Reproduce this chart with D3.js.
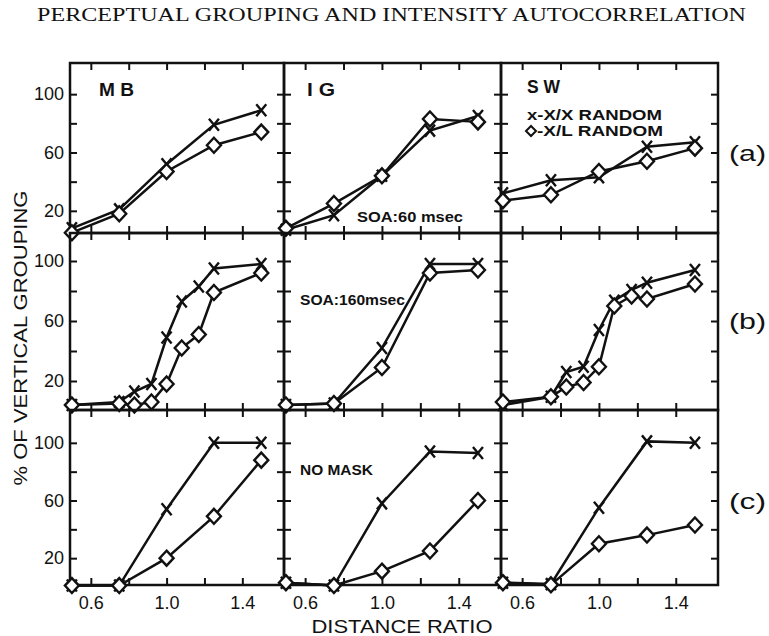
<!DOCTYPE html>
<html>
<head>
<meta charset="utf-8">
<script src="https://cdn.jsdelivr.net/npm/d3@7"></script>
<style>
  body { margin: 0; background: #fff; }
  text { fill: #111; }
</style>
</head>
<body>
<script>
// Values: % of vertical grouping vs distance ratio
const subjects = ["M B", "I G", "S W"];
const rowLabels = ["(a)", "(b)", "(c)"];
const ratios = [0.5, 0.75, 1.0, 1.25, 1.5];
const ratiosFine = [0.5, 0.75, 0.83, 0.92, 1.0, 1.08, 1.17, 1.25, 1.5];
const xTicks = [0.6, 0.8, 1.0, 1.2, 1.4];
const xTickLabels = [0.6, 1.0, 1.4];
const yTicks = [20, 40, 60, 80, 100];
const yTickLabels = [20, 60, 100];

// row (a): SOA 60 msec
const mbA_xx = [8, 21, 52, 79, 89];
const mbA_xl = [5, 18, 47, 65, 74];
const igA_xx = [7, 17, 44, 75, 85];
const igA_xl = [8, 25, 44, 83, 81];
const swA_xx = [32, 41, 43, 64, 67];
const swA_xl = [27, 31, 47, 54, 63];

// row (b): SOA 160 msec
const mbB_xx = [4, 6, 13, 18, 49, 73, 83, 95, 98];
const mbB_xl = [4, 5, 4, 6, 18, 42, 51, 79, 92];
const igB_xx = [4, 5, 42, 98, 98];
const igB_xl = [4, 5, 29, 92, 94];
const swB_xx = [4, 9.5, 26, 29.5, 54, 73.5, 80.7, 85.5, 94];
const swB_xl = [6, 9.5, 16, 19, 29.5, 70, 76.7, 74.7, 84.7];

// row (c): no mask
const mbC_xx = [1, 1, 54, 100, 100];
const mbC_xl = [1, 1, 20, 49, 88];
const igC_xx = [3, 1, 58, 94, 93];
const igC_xl = [3, 1, 11, 25, 60];
const swC_xx = [3, 2, 55, 101, 100];
const swC_xl = [3, 1.5, 30, 36, 43];

const panels = [
    {row: 0, col: 0, x: ratios, xx: mbA_xx, xl: mbA_xl},
    {row: 0, col: 1, x: ratios, xx: igA_xx, xl: igA_xl},
    {row: 0, col: 2, x: ratios, xx: swA_xx, xl: swA_xl},
    {row: 1, col: 0, x: ratiosFine, xx: mbB_xx, xl: mbB_xl},
    {row: 1, col: 1, x: ratios, xx: igB_xx, xl: igB_xl},
    {row: 1, col: 2, x: ratiosFine, xx: swB_xx, xl: swB_xl},
    {row: 2, col: 0, x: ratios, xx: mbC_xx, xl: mbC_xl},
    {row: 2, col: 1, x: ratios, xx: igC_xx, xl: igC_xl},
    {row: 2, col: 2, x: ratios, xx: swC_xx, xl: swC_xl}
];

const width = 769;
const height = 636;
const colLeft = [70, 284, 501];
const colRight = [284, 501, 718];
const rowTop = [63, 233, 410];
const rowBottom = [233, 410, 585];
const yZero = [240, 411, 587];
const yMax = [65, 231, 414];
const font = "'Liberation Sans', Arial, sans-serif";

const xScales = colLeft.map((l, i) => d3.scaleLinear().domain([0.49, 1.62]).range([l, colRight[i]]));
const yScales = yZero.map((z, i) => d3.scaleLinear().domain([0, 120]).range([z, yMax[i]]));

const svg = d3.select("body").append("svg")
    .attr("width", width)
    .attr("height", height)
    .attr("viewBox", [0, 0, width, height])
    .style("font-family", font);

// Title
svg.append("text")
    .attr("x", 37)
    .attr("y", 21)
    .attr("textLength", 709)
    .attr("lengthAdjust", "spacingAndGlyphs")
    .style("font-family", "'Liberation Serif', 'Times New Roman', serif")
    .style("font-size", "19px")
    .text("PERCEPTUAL GROUPING AND INTENSITY AUTOCORRELATION");

const xMark = "M-5,-6L5,6M-5,6L5,-6";
const diamond = "M0,-7.5L7,0L0,7.5L-7,0Z";

panels.forEach(p => {
    const x = xScales[p.col];
    const y = yScales[p.row];
    const g = svg.append("g");

    // ticks, inward on all four sides
    const fmtX = d => (p.row === 2 && xTickLabels.includes(d)) ? d.toFixed(1) : "";
    const fmtY = d => (p.col === 0 && yTickLabels.includes(d)) ? d : "";

    g.append("g")
        .attr("transform", `translate(0,${rowBottom[p.row]})`)
        .call(d3.axisBottom(x).tickValues(xTicks).tickSize(-7).tickPadding(11).tickFormat(fmtX));
    g.append("g")
        .attr("transform", `translate(0,${rowTop[p.row]})`)
        .call(d3.axisTop(x).tickValues(xTicks).tickSize(-7).tickFormat(""));
    g.append("g")
        .attr("transform", `translate(${colLeft[p.col]},0)`)
        .call(d3.axisLeft(y).tickValues(yTicks).tickSize(-7).tickPadding(6).tickFormat(fmtY));
    g.append("g")
        .attr("transform", `translate(${colRight[p.col]},0)`)
        .call(d3.axisRight(y).tickValues(yTicks).tickSize(-7).tickFormat(""));

    g.selectAll(".domain").remove();
    g.selectAll(".tick line").attr("stroke", "#111").attr("stroke-width", 2);
    g.selectAll(".tick text")
        .attr("fill", "#111")
        .style("font-family", font)
        .style("font-size", "18px");

    // panel frame
    g.append("rect")
        .attr("x", colLeft[p.col])
        .attr("y", rowTop[p.row])
        .attr("width", colRight[p.col] - colLeft[p.col])
        .attr("height", rowBottom[p.row] - rowTop[p.row])
        .attr("fill", "none")
        .attr("stroke", "#111")
        .attr("stroke-width", 2.5);

    const xx = p.x.map((r, i) => [r, p.xx[i]]);
    const xl = p.x.map((r, i) => [r, p.xl[i]]);
    const line = d3.line().x(d => x(d[0])).y(d => y(d[1]));

    g.selectAll(".series")
        .data([xx, xl])
        .join("path")
        .attr("d", line)
        .attr("fill", "none")
        .attr("stroke", "#111")
        .attr("stroke-width", 2.5);

    g.append("g")
        .selectAll("path")
        .data(xx)
        .join("path")
        .attr("transform", d => `translate(${x(d[0])},${y(d[1])})`)
        .attr("d", xMark)
        .attr("stroke", "#111")
        .attr("stroke-width", 2.4);

    g.append("g")
        .selectAll("path")
        .data(xl)
        .join("path")
        .attr("transform", d => `translate(${x(d[0])},${y(d[1])})`)
        .attr("d", diamond)
        .attr("fill", "#fff")
        .attr("stroke", "#111")
        .attr("stroke-width", 2.4);
});

// Subject labels
const subjPos = [[99, 96, 35], [307, 96, 28], [527, 93, 33]];
subjects.forEach((s, i) => {
    svg.append("text")
        .attr("x", subjPos[i][0])
        .attr("y", subjPos[i][1])
        .attr("textLength", subjPos[i][2])
        .attr("lengthAdjust", "spacingAndGlyphs")
        .style("font-size", "18px")
        .style("font-weight", "bold")
        .text(s);
});

// Legend in S W panel
svg.append("text")
    .attr("x", 527).attr("y", 120)
    .attr("textLength", 135)
    .attr("lengthAdjust", "spacingAndGlyphs")
    .style("font-size", "15px")
    .style("font-weight", "bold")
    .text("x-X/X RANDOM");
svg.append("path")
    .attr("transform", "translate(531,131)")
    .attr("d", "M0,-5L5,0L0,5L-5,0Z")
    .attr("fill", "none")
    .attr("stroke", "#111")
    .attr("stroke-width", 2);
svg.append("text")
    .attr("x", 537).attr("y", 136)
    .attr("textLength", 126)
    .attr("lengthAdjust", "spacingAndGlyphs")
    .style("font-size", "15px")
    .style("font-weight", "bold")
    .text("-X/L RANDOM");

// Condition notes
const notes = [["SOA:60 msec", 357, 222, 106], ["SOA:160msec", 300, 305, 105], ["NO MASK", 300, 475, 73]];
notes.forEach(n => {
    svg.append("text")
        .attr("x", n[1]).attr("y", n[2])
        .attr("textLength", n[3])
        .attr("lengthAdjust", "spacingAndGlyphs")
        .style("font-size", "15px")
        .style("font-weight", "bold")
        .text(n[0]);
});

// Row labels
rowLabels.forEach((t, i) => {
    svg.append("text")
        .attr("x", 729)
        .attr("y", (yScales[i](60)) + 8)
        .attr("textLength", 37)
        .attr("lengthAdjust", "spacingAndGlyphs")
        .style("font-size", "22px")
        .text(t);
});

// Axis titles
svg.append("text")
    .attr("transform", "translate(27,338) rotate(-90)")
    .attr("text-anchor", "middle")
    .attr("textLength", 295)
    .attr("lengthAdjust", "spacingAndGlyphs")
    .style("font-size", "18px")
    .text("% OF VERTICAL GROUPING");

svg.append("text")
    .attr("x", 402)
    .attr("y", 633)
    .attr("text-anchor", "middle")
    .attr("textLength", 181)
    .attr("lengthAdjust", "spacingAndGlyphs")
    .style("font-size", "19px")
    .text("DISTANCE RATIO");
</script>
</body>
</html>
